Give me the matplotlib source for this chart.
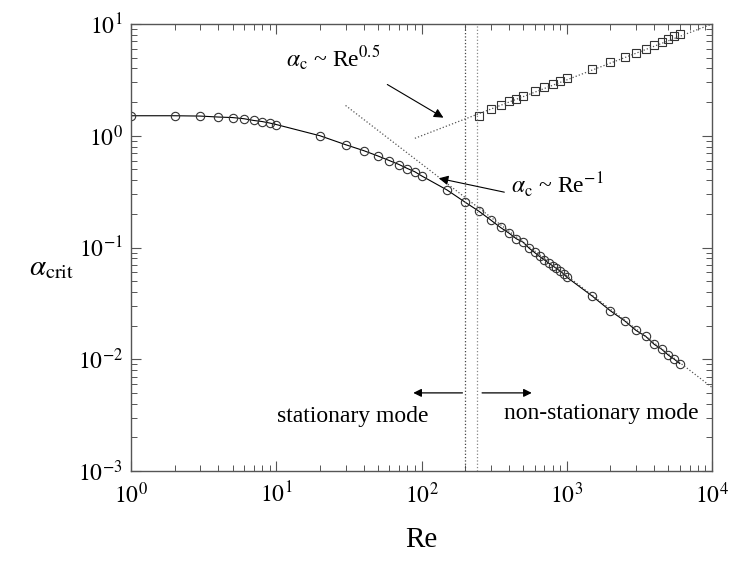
import numpy as np
import matplotlib
matplotlib.use("Agg")
import matplotlib.pyplot as plt
from matplotlib.ticker import LogLocator, NullFormatter

# stationary branch (circles)
re_stat = [1, 2, 3, 4, 5, 6, 7, 8, 9, 10, 20, 30, 40, 50, 60, 70, 80, 90, 100,
           150, 200, 250, 300, 350, 400, 450, 500, 550, 600, 650, 700, 750, 800,
           850, 900, 950, 1000, 1500, 2000, 2500, 3000, 3500, 4000, 4500, 5000,
           5500, 6000]
alpha_stat = [1.51, 1.51, 1.50, 1.47, 1.455, 1.42, 1.37, 1.34, 1.30, 1.26, 1.0,
              0.832, 0.736, 0.66, 0.60, 0.553, 0.509, 0.476, 0.438,
              0.327, 0.254, 0.21, 0.176, 0.151, 0.1345, 0.1197, 0.1117, 0.0987,
              0.0903, 0.0832, 0.0776, 0.0725, 0.0686, 0.0649, 0.0615, 0.0582,
              0.0543, 0.0367, 0.0271, 0.0221, 0.0181, 0.016, 0.0136, 0.0123,
              0.0109, 0.0100, 0.00915]

# non-stationary branch (squares)
re_nonstat = [250, 300, 350, 400, 450, 500, 600, 700, 800, 900, 1000, 1500,
              2000, 2500, 3000, 3500, 4000, 4500, 5000, 5500, 6000]
alpha_nonstat = [1.50, 1.73, 1.90, 2.04, 2.15, 2.28, 2.52, 2.72, 2.89, 3.08,
                 3.30, 3.97, 4.58, 5.08, 5.55, 6.02, 6.45, 6.86, 7.35, 7.76, 8.09]

# power law guide lines
re_fit_low = [30, 1e4]
alpha_fit_low = [56.0 / 30, 56.0 / 1e4]
re_fit_high = [90, 1e4]
alpha_fit_high = [0.1 * 90 ** 0.5, 0.1 * 1e4 ** 0.5]

re_transition = [200, 240]

xtick_vals = [1, 10, 100, 1000, 10000]
xtick_labels = [r'$10^{0}$', r'$10^{1}$', r'$10^{2}$', r'$10^{3}$', r'$10^{4}$']
ytick_vals = [1e-3, 1e-2, 1e-1, 1, 10]
ytick_labels = [r'$10^{-3}$', r'$10^{-2}$', r'$10^{-1}$', r'$10^{0}$', r'$10^{1}$']

plt.rcParams['font.family'] = ['Liberation Serif', 'DejaVu Serif']
plt.rcParams['mathtext.fontset'] = 'stix'

fig = plt.figure(figsize=(7.3, 5.67), dpi=100)
ax = fig.add_axes([131 / 730, 1 - 471 / 567, 581 / 730, 447 / 567])
ax.set_xscale('log')
ax.set_yscale('log')
ax.set_xlim(1, 1e4)
ax.set_ylim(1e-3, 10)

ax.plot(re_stat, alpha_stat, color='black', linewidth=0.8, marker='o',
        markersize=6, markerfacecolor='none', markeredgecolor='#333333',
        markeredgewidth=0.8)
ax.plot(re_nonstat, alpha_nonstat, linestyle='none', marker='s',
        markersize=5.5, markerfacecolor='none', markeredgecolor='#333333',
        markeredgewidth=0.8)
ax.plot(re_fit_low, alpha_fit_low, color='#555555', linestyle=':', linewidth=0.9)
ax.plot(re_fit_high, alpha_fit_high, color='#555555', linestyle=':', linewidth=0.9)
ax.axvline(re_transition[0], color='#444444', linestyle=':', linewidth=0.9)
ax.axvline(re_transition[1], color='#888888', linestyle=':', linewidth=0.9)

# annotations
ax.annotate('', xy=(147, 1.41), xytext=(56, 2.96),
            arrowprops=dict(arrowstyle='-|>', color='black', lw=0.8,
                            mutation_scale=14))
ax.text(11.7, 4.15, r'$\alpha_{\rm c}$ ~ Re$^{0.5}$', fontsize=17,
        va='baseline', ha='left')
ax.annotate('', xy=(126, 0.421), xytext=(388, 0.309),
            arrowprops=dict(arrowstyle='-|>', color='black', lw=0.8,
                            mutation_scale=14))
ax.text(410, 0.307, r'$\alpha_{\rm c}$ ~ Re$^{-1}$', fontsize=17,
        va='baseline', ha='left')

ax.annotate('', xy=(84, 0.005), xytext=(200, 0.005),
            arrowprops=dict(arrowstyle='-|>', color='black', lw=0.9,
                            mutation_scale=12))
ax.annotate('', xy=(600, 0.005), xytext=(250, 0.005),
            arrowprops=dict(arrowstyle='-|>', color='black', lw=0.9,
                            mutation_scale=12))
ax.text(10.2, 0.0031, 'stationary mode', fontsize=17, va='center', ha='left')
ax.text(369, 0.0033, 'non-stationary mode', fontsize=17, va='center', ha='left')

ax.set_xticks(xtick_vals)
ax.set_xticklabels(xtick_labels)
ax.set_yticks(ytick_vals)
ax.set_yticklabels(ytick_labels)
ax.xaxis.set_minor_locator(LogLocator(base=10, subs=np.arange(2, 10)))
ax.yaxis.set_minor_locator(LogLocator(base=10, subs=np.arange(2, 10)))
ax.xaxis.set_minor_formatter(NullFormatter())
ax.yaxis.set_minor_formatter(NullFormatter())
ax.tick_params(which='both', direction='in', top=True, right=True,
               color='#555555', labelsize=17)
ax.tick_params(which='major', length=7, width=0.8)
ax.tick_params(which='minor', length=4, width=0.7)
ax.tick_params(axis='x', pad=8)
ax.tick_params(axis='y', pad=6)
for s in ax.spines.values():
    s.set_color('#555555')
    s.set_linewidth(1.0)

fig.text(421 / 730, 1 - 540 / 567, 'Re', fontsize=21, ha='center', va='center')
fig.text(52 / 730, 1 - 268 / 567, r'$\alpha_{\rm crit}$', fontsize=21,
         ha='center', va='center')

fig.savefig('out.png', dpi=100)
